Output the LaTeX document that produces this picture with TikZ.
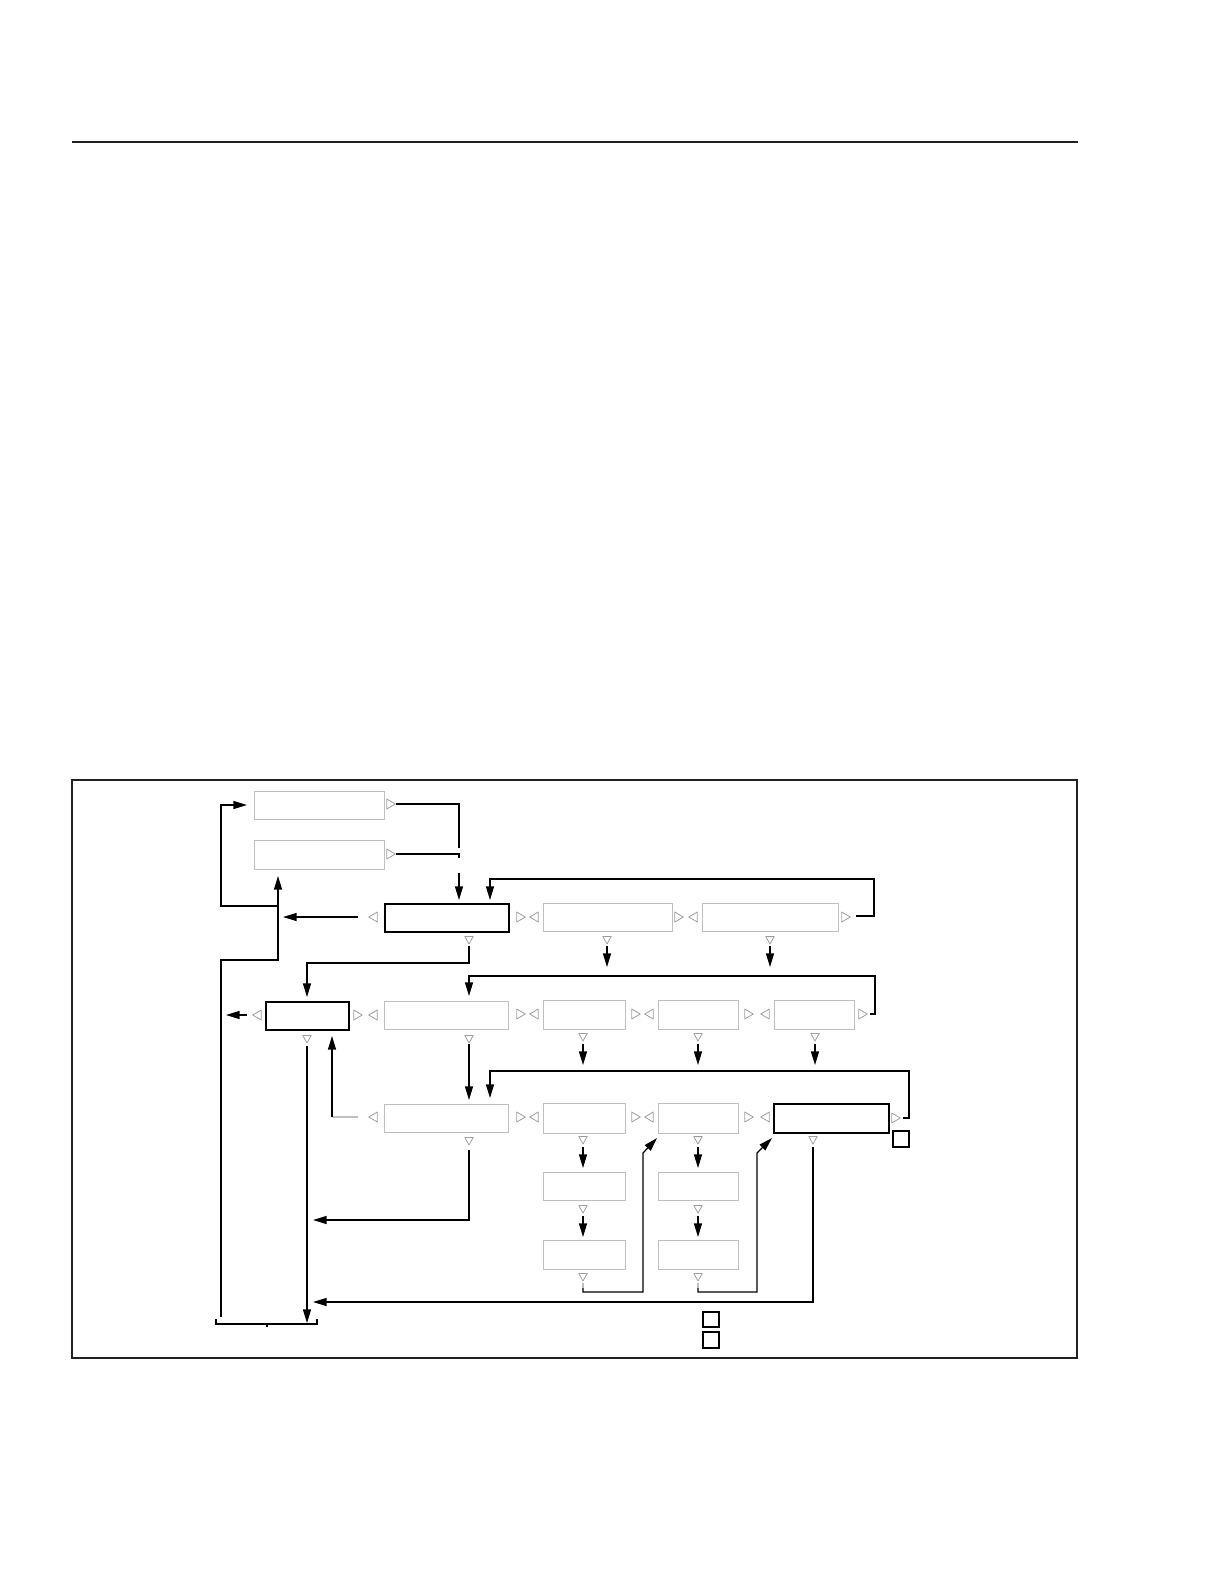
\documentclass[tikz,border=0pt]{standalone}
\usetikzlibrary{arrows.meta,fit}
\definecolor{lgray}{gray}{0.75}
\definecolor{tgray}{gray}{0.62}
\definecolor{fcol}{gray}{0.13}
\tikzset{
  lbox/.style={draw=lgray, line width=0.5pt, inner sep=0pt, fill=none},
  bbox/.style={draw=black, line width=0.6pt, inner sep=0pt},
  conn/.style={draw=black, line width=0.62pt},
  arr/.style={conn, -{Triangle[length=6.8pt,width=4pt]}},
  tr/.pic={\draw[tgray, line width=0.4pt, line join=round] (-4.3,-5) -- (4.3,0) -- (-4.3,5) -- cycle;},
  tl/.pic={\draw[tgray, line width=0.4pt, line join=round] (4.3,-5) -- (-4.3,0) -- (4.3,5) -- cycle;},
  td/.pic={\draw[tgray, line width=0.4pt, line join=round] (-4.2,-3.5) -- (4.2,-3.5) -- (0,4) -- cycle;}
}
\begin{document}
\begin{tikzpicture}[x=0.5pt,y=-0.5pt]
\useasboundingbox (0,0) rectangle (1221,1581);
% top rule and frame
\draw[fcol, line width=0.8pt] (72,142) -- (1078,142);
\node[draw=fcol, line width=0.8pt, inner sep=0pt, fit={(72,780) (1077,1358)}] (frame) {};
% boxes
\node[lbox, fit={(254,791) (384,819)}] (A) {};
\node[lbox, fit={(254,840) (384,869)}] (B) {};
\node[bbox, fit={(385,904) (509,932)}] (C) {};
\node[lbox, fit={(543,903) (672,931)}] (D) {};
\node[lbox, fit={(702,903) (838,931)}] (E) {};
\node[bbox, fit={(266,1002) (349,1030)}] (F) {};
\node[lbox, fit={(384,1001) (508,1029)}] (G) {};
\node[lbox, fit={(543,1000) (625,1029)}] (I) {};
\node[lbox, fit={(658,1000) (738,1029)}] (J) {};
\node[lbox, fit={(774,1000) (854,1029)}] (K) {};
\node[lbox, fit={(384,1104) (508,1132)}] (H) {};
\node[lbox, fit={(543,1103) (625,1133)}] (L) {};
\node[lbox, fit={(658,1103) (738,1133)}] (M) {};
\node[bbox, fit={(774,1104) (889,1133)}] (N) {};
\node[lbox, fit={(543,1172) (625,1200)}] (O) {};
\node[lbox, fit={(543,1240) (625,1269)}] (P) {};
\node[lbox, fit={(658,1172) (738,1200)}] (Q) {};
\node[lbox, fit={(658,1240) (738,1269)}] (R) {};
\node[bbox, fit={(893,1131) (909,1147)}] (S1) {};
\node[bbox, fit={(703,1312) (719,1327)}] (S2) {};
\node[bbox, fit={(703,1332) (719,1348)}] (S3) {};
% triangles right
\foreach \p in {(391,804),(391,854),(521,917),(679,917),(846,917),
  (358,1015),(521,1014),(636,1014),(749,1014),(863,1014),
  (521,1117),(636,1117),(749,1117),(896,1118)}
  \pic at \p {tr};
% triangles left
\foreach \p in {(373,917),(534,917),(693,917),
  (257,1015),(373,1015),(534,1014),(649,1014),(765,1014),
  (373,1117),(534,1117),(649,1117),(765,1117)}
  \pic at \p {tl};
% triangles down
\foreach \p in {(469,940),(607,940),(770,940),
  (307,1039),(469,1039),(583,1037),(698,1037),(815,1037),
  (469,1141),(583,1140),(698,1140),(813,1140),
  (583,1209),(698,1209),(583,1277),(698,1277)}
  \pic at \p {td};
% coordinates
\coordinate (b1) at (221,1317);
\coordinate (b2) at (307,1323);
% connectors top
\draw[conn] (396,804) -- (459,804) -- (459,848);
\draw[conn] (396,854) -- (459,854) -- (459,858);
\draw[arr] (459,873) -- (459,900);
\draw[arr] (856,916) -- (874,916) -- (874,879) -- (490,879) -- (490,900);
\draw[arr] (358,917) -- (283,917);
\draw[arr] (b1) -- (221,960) -- (278,960) -- (278,876);
\draw[arr] (278,906) -- (221,906) -- (221,805) -- (247,805);
\draw[arr] (469,946) -- (469,963) -- (307,963) -- (307,997);
\draw[arr] (607,946) -- (607,967);
\draw[arr] (770,946) -- (770,967);
% row 2
\draw[arr] (247,1015) -- (226,1015);
\draw[arr] (870,1014) -- (875,1014) -- (875,976) -- (469,976) -- (469,996);
\foreach \xx in {583,698,815} \draw[arr] (\xx,1044) -- (\xx,1065);
\draw[arr] (469,1044) -- (469,1100);
% row 3
\draw[arr] (903,1118) -- (909,1118) -- (909,1071) -- (490,1071) -- (490,1098);
\draw[lgray, line width=0.6pt] (358,1117) -- (332,1117);
\draw[arr] (332,1117) -- (332,1036);
\draw[arr] (307,1046) -- (b2);
\draw[arr] (469,1150) -- (469,1220) -- (313,1220);
\draw[arr] (813,1147) -- (813,1302) -- (313,1302);
% columns
\foreach \xx in {583,698} {
  \draw[arr] (\xx,1147) -- (\xx,1168);
  \draw[arr] (\xx,1216) -- (\xx,1237);
}
\draw[lgray, line width=0.6pt] (583,1283) -- (583,1288);
\draw[arr] (583,1288) -- (583,1292) -- (643,1292) -- (643,1153) -- (657,1138);
\draw[lgray, line width=0.6pt] (698,1283) -- (698,1288);
\draw[arr] (698,1288) -- (698,1292) -- (757,1292) -- (757,1153) -- (772,1138);
% bracket
\draw[conn] (216,1319) -- (216,1324) -- (317,1324) -- (317,1319);
\draw[conn] (267,1324) -- (267,1327);
\end{tikzpicture}
\end{document}
